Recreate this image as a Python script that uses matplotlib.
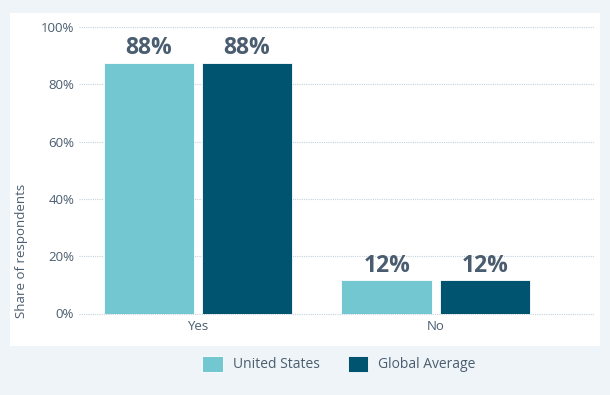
import matplotlib
matplotlib.use("Agg")
import matplotlib.pyplot as plt
import numpy as np

categories = ["Yes", "No"]
series_names = ["United States", "Global Average"]
us_values = [87.5, 11.6]
global_values = [87.5, 11.6]
yticks = [0, 20, 40, 60, 80, 100]

plt.rcParams['font.family'] = ['Open Sans', 'DejaVu Sans']
text_color = "#4a5d70"
colors = ["#72c7d1", "#00546f"]

fig = plt.figure(figsize=(6.1, 3.95), dpi=100)
fig.patch.set_facecolor("#eef4f7")
bg = fig.add_axes([10/610, 1-346/395, 590/610, 333/395], zorder=-1)
bg.set_facecolor("white")
bg.set_xticks([]); bg.set_yticks([])
for s in bg.spines.values():
    s.set_visible(False)

ax = fig.add_axes([79/610, 1-313.5/395, 515/610, 286.5/395], zorder=1)
ax.set_facecolor("none")
x = np.arange(len(categories))
w = 0.382
off = 0.206
for vals, c, o, name in zip([us_values, global_values], colors, [-off, off], series_names):
    bars = ax.bar(x + o, vals, width=w, color=c, label=name, zorder=3,
                  edgecolor="white", linewidth=0.6)
    for b, v in zip(bars, vals):
        ax.text(b.get_x() + b.get_width()/2, v + 0.9, f"{int(np.floor(v + 0.5))}%",
                ha="center", va="bottom",
                fontsize=16.5, fontweight="bold", color=text_color, zorder=4)

ax.set_xlim(-0.5, 1.664)
ax.set_ylim(0, 100)
ax.set_yticks(yticks)
ax.set_yticklabels([f"{t}%" for t in yticks])
ax.set_xticks(x)
ax.set_xticklabels(categories)
for t in yticks:
    ax.axhline(t, color="#c5d3dc", linestyle=(0, (1, 1)), linewidth=0.8, zorder=1, clip_on=False)
for s in ax.spines.values():
    s.set_visible(False)
ax.tick_params(axis="both", length=0, colors=text_color, labelsize=9.5)
ax.tick_params(axis="y", pad=3.5)
ax.tick_params(axis="x", pad=5)

fig.text(22/610, 1-251/395, "Share of respondents", rotation=90, ha="center", va="center",
         fontsize=9.5, color=text_color)

leg = fig.legend(loc="center", bbox_to_anchor=(339/610, 1-364/395), ncol=2, frameon=False,
                 fontsize=10, handlelength=1.45, handleheight=1.45, columnspacing=2.0,
                 handletextpad=0.75, labelcolor=text_color)

fig.savefig("out.png", dpi=100, facecolor=fig.get_facecolor())
